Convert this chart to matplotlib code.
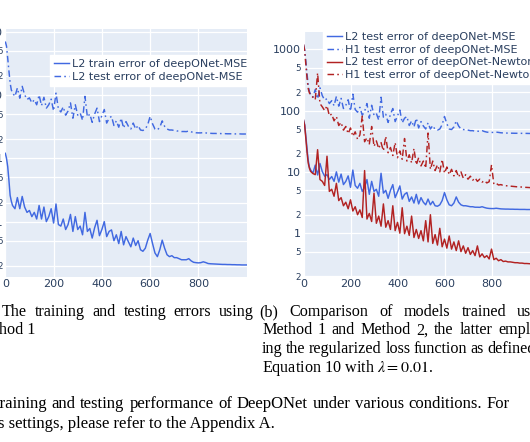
import matplotlib
matplotlib.use('Agg')
import matplotlib.pyplot as plt

epochs = [0, 5, 10, 15, 20, 25, 30] + list(range(40, 1001, 10))

train_l2_mse = [1.2, 1.0, 0.74, 0.45, 0.26, 0.21, 0.18,
                0.16, 0.24, 0.16, 0.25, 0.17, 0.14, 0.15, 0.12, 0.14, 0.11,
                0.18, 0.11, 0.17, 0.10, 0.12, 0.16, 0.095, 0.19, 0.09, 0.085,
                0.11, 0.075, 0.09, 0.13, 0.07, 0.12, 0.075, 0.085, 0.062, 0.14,
                0.07, 0.078, 0.055, 0.08, 0.105, 0.06, 0.075, 0.10, 0.058, 0.07,
                0.074, 0.05, 0.062, 0.045, 0.07, 0.043, 0.058, 0.048, 0.04, 0.055,
                0.042, 0.05, 0.036, 0.034, 0.038, 0.051, 0.065, 0.045, 0.032, 0.028,
                0.036, 0.051, 0.038, 0.03, 0.028, 0.029, 0.027, 0.027, 0.026, 0.025,
                0.025, 0.025, 0.026, 0.024, 0.0228, 0.0225, 0.0223, 0.0225, 0.0232, 0.0226,
                0.0218, 0.0216, 0.0215, 0.0214, 0.0213, 0.0212, 0.0211, 0.0211, 0.021, 0.021,
                0.0209, 0.0209, 0.0208, 0.0208, 0.0207, 0.0207, 0.0207]

test_l2_mse = [70, 59, 38, 24, 15.5, 12, 10.8,
               9.5, 12.9, 8.9, 13.7, 10.1, 8.5, 9.0, 7.5, 8.4, 7.0,
               10.0, 6.8, 9.2, 6.2, 7.0, 8.6, 5.6, 10.7, 6.0, 5.4,
               6.5, 4.8, 5.6, 7.5, 4.3, 7.0, 4.8, 5.2, 4.0, 9.5,
               4.5, 5.0, 3.7, 5.0, 6.2, 3.8, 4.7, 5.9, 3.6, 4.3,
               4.6, 3.3, 3.9, 3.1, 4.3, 3.0, 3.8, 3.2, 2.9, 3.6,
               2.9, 3.3, 2.8, 2.75, 2.9, 3.4, 4.6, 3.5, 2.9, 2.8,
               3.1, 3.9, 3.2, 2.9, 2.8, 2.8, 2.75, 2.7, 2.7, 2.65,
               2.65, 2.64, 2.7, 2.62, 2.56, 2.53, 2.52, 2.52, 2.55, 2.52,
               2.49, 2.48, 2.47, 2.47, 2.46, 2.46, 2.45, 2.45, 2.44, 2.44,
               2.44, 2.43, 2.43, 2.43, 2.42, 2.42, 2.42]

test_h1_mse = [1190, 980, 640, 400, 260, 205, 185,
               165, 220, 155, 235, 175, 148, 156, 130, 145, 120,
               170, 118, 158, 108, 122, 150, 98, 185, 104, 94,
               113, 84, 97, 130, 75, 122, 84, 90, 70, 165,
               78, 87, 64, 87, 108, 66, 82, 102, 63, 75,
               80, 57, 68, 54, 75, 52, 66, 56, 50, 63,
               50, 57, 49, 48, 50, 59, 80, 61, 50, 49,
               54, 68, 56, 50, 49, 48.5, 48, 47, 47, 46,
               46, 46, 47, 45.5, 44.5, 44, 44, 44, 44.5, 44,
               43.4, 43.2, 43.0, 42.9, 42.8, 42.7, 42.6, 42.6, 42.5, 42.5,
               42.4, 42.4, 42.3, 42.3, 42.2, 42.2, 42.2]

test_l2_newton = [70, 57, 35, 21, 14, 11.5, 10.2,
                  9.4, 9.0, 23, 7.5, 7.0, 6.0, 18, 4.8, 5.2, 4.0,
                  6.5, 3.4, 3.8, 2.8, 3.2, 2.5, 3.5, 2.3, 2.7, 2.0,
                  2.4, 1.8, 10.5, 1.7, 2.1, 1.55, 4.5, 1.45, 1.9, 1.3,
                  3.0, 1.25, 1.6, 1.15, 2.8, 1.1, 1.5, 1.0, 2.6, 0.98,
                  1.3, 0.92, 1.9, 0.85, 1.15, 0.82, 1.1, 0.75, 1.6, 0.72,
                  2.0, 0.68, 0.95, 0.64, 1.2, 0.6, 0.8, 0.57, 0.9, 0.55,
                  0.72, 0.52, 0.75, 0.5, 0.62, 0.47, 0.58, 0.45, 0.52, 0.43,
                  0.62, 0.41, 0.46, 0.40, 0.43, 0.38, 0.55, 0.37, 0.39, 0.355,
                  0.37, 0.345, 0.35, 0.34, 0.34, 0.335, 0.33, 0.33, 0.325, 0.325,
                  0.32, 0.32, 0.318, 0.316, 0.315, 0.315, 0.314]

test_h1_newton = [1200, 950, 560, 340, 230, 195, 180,
                  165, 150, 410, 130, 115, 100, 120, 82, 88, 68,
                  80, 57, 64, 48, 55, 42, 52, 38, 45, 34,
                  40, 81, 31, 36, 28, 55, 26, 32, 24, 30,
                  22, 38, 20.5, 25, 18.5, 30, 17, 22, 16, 35,
                  15, 19, 14, 24, 13, 17, 12.5, 15, 11.5, 43,
                  11, 15, 10.5, 13, 10, 16, 9.5, 12, 9.0, 11,
                  8.6, 10.5, 8.2, 10, 7.9, 9.0, 7.6, 8.5, 7.3, 8.0,
                  7.0, 7.6, 6.8, 7.2, 6.6, 6.9, 13, 6.3, 6.5, 6.1,
                  6.2, 6.0, 5.95, 5.9, 5.85, 5.8, 5.75, 5.7, 5.68, 5.65,
                  5.6, 5.58, 5.55, 5.52, 5.5, 5.5, 5.48]

xticks = [0, 200, 400, 600, 800]
left_yticks = [0.02, 0.05, 0.1, 0.2, 0.5, 1, 2, 5, 10, 20, 50, 100]
left_ylabels = ['2', '5', '0.1', '2', '5', '1', '2', '5', '10', '2', '5', '100']
right_yticks = [0.2, 0.5, 1, 2, 5, 10, 20, 50, 100, 200, 500, 1000]
right_ylabels = ['2', '5', '1', '2', '5', '10', '2', '5', '100', '2', '5', '1000']

BG = '#E5ECF6'
TXT = '#2a3f5f'
BLUE = '#4169E1'
RED = '#B22222'
SERIF = 'Liberation Serif'
DASHDOT = (4.5, 2.2, 1.1, 2.2)
LW = 1.05

plt.rcParams['mathtext.fontset'] = 'stix'

W, H = 530, 442
fig = plt.figure(figsize=(W / 100, H / 100), dpi=100)


def px_axes(x0, y0, x1, y1):
    return fig.add_axes([x0 / W, 1 - y1 / H, (x1 - x0) / W, (y1 - y0) / H])


def style(ax, yticks, ylabels, ylim):
    ax.set_facecolor(BG)
    ax.set_yscale('log')
    ax.set_ylim(*ylim)
    ax.set_xlim(0, 1000)
    ax.set_xticks(xticks)
    ax.set_yticks(yticks, ylabels)
    ax.minorticks_off()
    ax.grid(color='white', lw=0.9)
    ax.set_axisbelow(True)
    for s in ax.spines.values():
        s.set_visible(False)
    ax.tick_params(length=0, colors=TXT, labelsize=8, pad=2)
    for lab in ax.get_yticklabels():
        lab.set_fontsize(6.3 if lab.get_text() in ('2', '5') else 8)


def legend(ax, x, y):
    ax.legend(loc='upper left', bbox_to_anchor=(x / W, 1 - y / H),
              bbox_transform=fig.transFigure, fontsize=8, labelcolor=TXT,
              frameon=True, fancybox=False, framealpha=1, facecolor='white',
              edgecolor='white', borderpad=0.35, borderaxespad=0,
              handlelength=1.35, handletextpad=0.25, labelspacing=0.25)


# (a) method 1 train / test
ax1 = px_axes(5.3, 29.3, 246.7, 276.7)
style(ax1, left_yticks, left_ylabels, (0.0135, 109))
ax1.plot(epochs, train_l2_mse, color=BLUE, lw=LW,
         label='L2 train error of deepONet-MSE')
ax1.plot(epochs, test_l2_mse, color=BLUE, lw=LW, dashes=DASHDOT,
         label='L2 test error of deepONet-MSE')
legend(ax1, 50, 55)

# (b) method 1 vs method 2
ax2 = px_axes(303.5, 32.3, 538.5, 276.7)
style(ax2, right_yticks, right_ylabels, (0.195, 1890))
ax2.plot(epochs, test_l2_mse, color=BLUE, lw=LW,
         label='L2 test error of deepONet-MSE')
ax2.plot(epochs, test_h1_mse, color=BLUE, lw=LW, dashes=DASHDOT,
         label='H1 test error of deepONet-MSE')
ax2.plot(epochs, test_l2_newton, color=RED, lw=LW,
         label='L2 test error of deepONet-Newton')
ax2.plot(epochs, test_h1_newton, color=RED, lw=LW, dashes=DASHDOT,
         label='H1 test error of deepONet-Newton')
legend(ax2, 323, 28)


def justify(text, x0, x1, y, size):
    words = text.split()
    r = fig.canvas.get_renderer()
    items = [fig.text(0, 1 - y / H, w, fontsize=size, family=SERIF,
                      va='baseline') for w in words]
    widths = [t.get_window_extent(r).width for t in items]
    gap = (x1 - x0 - sum(widths)) / (len(words) - 1)
    x = x0
    for t, w in zip(items, widths):
        t.set_x(x / W)
        x += w + gap


def line(text, x, y, size):
    fig.text(x / W, 1 - y / H, text, fontsize=size, family=SERIF, va='baseline')


SUB = 11.6
CAP = 11.95
justify('The training and testing errors using', 2, 254, 316, SUB)
line('hod 1', -1, 334.5, SUB)
justify('(b) Comparison of models trained using', 259, 552, 316, SUB)
justify('Method 1 and Method 2, the latter employ-', 262, 552, 334.5, SUB)
justify('ing the regularized loss function as defined in', 262, 552, 353, SUB)
line(r'Equation 10 with $\lambda = 0.01$.', 262, 371.5, SUB)
justify('training and testing performance of DeepONet under various conditions. For',
        -4.6, 510, 408, CAP)
line('s settings, please refer to the Appendix A.', -2.2, 427.5, CAP)

fig.savefig('out.png', dpi=100)
